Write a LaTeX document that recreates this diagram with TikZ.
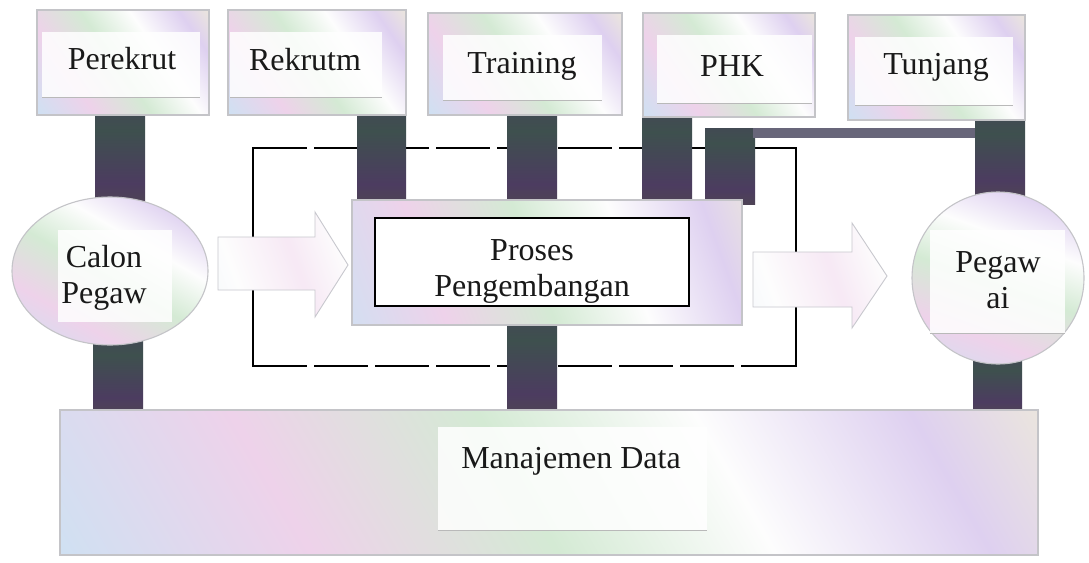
\documentclass[tikz,border=0pt]{standalone}
\usepackage{fontspec}
\setmainfont{Liberation Serif}
\usetikzlibrary{shapes.geometric,calc}

% pastel sheen used on the boxes
\definecolor{iwhite}{RGB}{253,253,253}
\definecolor{isky}{RGB}{208,224,242}
\definecolor{ipink}{RGB}{238,210,234}
\definecolor{imint}{RGB}{212,234,212}
\definecolor{ilav}{RGB}{222,208,240}
\definecolor{icream}{RGB}{240,238,214}
\definecolor{boxedge}{RGB}{196,196,200}
\definecolor{arrowedge}{RGB}{200,200,206}
% dark connector bars
\definecolor{bolive}{RGB}{82,84,60}
\definecolor{bpurple}{RGB}{76,60,96}
\definecolor{bgreen}{RGB}{62,80,78}
\definecolor{bandgrey}{RGB}{104,102,122}

\pgfdeclarehorizontalshading{irid}{100bp}{color(0bp)=(iwhite); color(16bp)=(isky); color(32bp)=(ipink); color(48bp)=(imint); color(62bp)=(iwhite); color(76bp)=(ilav); color(88bp)=(icream); color(100bp)=(isky)}
\pgfdeclarehorizontalshading{iridsoft}{100bp}{color(0bp)=(isky!40); color(30bp)=(iwhite); color(55bp)=(ipink!50); color(75bp)=(iwhite); color(100bp)=(imint!50)}
\pgfdeclareverticalshading{barshade}{100bp}{color(0bp)=(bolive); color(35bp)=(bpurple); color(65bp)=(bgreen); color(100bp)=(bpurple)}

\pgfdeclarelayer{paper}
\pgfdeclarelayer{framelayer}
\pgfdeclarelayer{barlayer}
\pgfsetlayers{paper,framelayer,barlayer,main}

\begin{document}
\begin{tikzpicture}[x=1pt,y=-1pt,
  every node/.style={inner sep=0pt, outer sep=0pt},
  irid/.style={shade, shading=irid, draw=boxedge, line width=1.1pt},
  topbox/.style={irid, rectangle, shading angle=35},
  whitepanel/.style={fill=white, fill opacity=0.85},
  panelfoot/.style={draw=gray!55, line width=1pt},
  lbl/.style={font=\fontsize{32}{36}\selectfont, text=black!90, align=center},
  bar/.style={shade, shading=barshade},
  band/.style={fill=bandgrey},
  frameline/.style={line width=2.4pt, black, line cap=rect},
  gapline/.style={line width=2.4pt, black, dash pattern=on 54pt off 7pt},
  arrowshape/.style={shade, shading=iridsoft, shading angle=20, draw=arrowedge, line width=0.9pt},
]
\useasboundingbox (0,0) rectangle (1089,562);
\begin{pgfonlayer}{paper}
  \fill[white] (0,0) rectangle (1089,562);
\end{pgfonlayer}

% ---- top row of boxes
\node[topbox, minimum width=172pt, minimum height=105pt] (perekrut) at (123,62.5) {};
\node[topbox, minimum width=178pt, minimum height=105pt] (rekrutm) at (317,62.5) {};
\node[topbox, minimum width=194pt, minimum height=102pt] (training) at (525,64) {};
\node[topbox, minimum width=172pt, minimum height=104pt] (phk) at (729,65) {};
\node[topbox, minimum width=177pt, minimum height=105pt] (tunjang) at (936.5,67.5) {};

\fill[whitepanel] (42,32) rectangle (200,97);
\draw[panelfoot] (42,97) -- (200,97);
\fill[whitepanel] (230,32) rectangle (382,97);
\draw[panelfoot] (230,97) -- (382,97);
\fill[whitepanel] (443,35) rectangle (602,100);
\draw[panelfoot] (443,100) -- (602,100);
\fill[whitepanel] (657,35) rectangle (812,103);
\draw[panelfoot] (657,103) -- (812,103);
\fill[whitepanel] (855,37) rectangle (1013,105);
\draw[panelfoot] (855,105) -- (1013,105);

\node[lbl, anchor=base] (perekrut-t) at (122,69) {Perekrut};
\node[lbl, anchor=base] (rekrutm-t) at (305,70) {Rekrutm};
\node[lbl, anchor=base] (training-t) at (522,73) {Training};
\node[lbl, anchor=base] (phk-t) at (732,76) {PHK};
\node[lbl, anchor=base] (tunjang-t) at (936,74) {Tunjang};

% ---- candidate ellipse
\node[irid, ellipse, shading angle=60, minimum width=196pt, minimum height=148pt] (calon) at (110,271) {};
\fill[whitepanel] (58,230) rectangle (172,322);
\node[lbl] (calon-t) at (104,278) {Calon\\Pegaw};

% ---- development process box
\node[irid, rectangle, shading angle=20, minimum width=390pt, minimum height=125pt] (proses) at (547,262.5) {};
\node[draw=black, line width=1.5pt, fill=white, minimum width=314pt, minimum height=88pt] (proses-in) at (532,262) {};
\node[lbl] (proses-t) at (532,271) {Proses\\Pengembangan};

% ---- employee circle
\node[irid, circle, shading angle=70, minimum size=172pt] (pegawai) at (998,278) {};
\fill[whitepanel] (930,230) rectangle (1065,333);
\draw[panelfoot] (930,333) -- (1065,333);
\node[lbl] (pegawai-t) at (998,280) {Pegaw\\ai};

% ---- data management base
\node[irid, rectangle, shading angle=30, minimum width=978pt, minimum height=145pt] (manajemen) at (549,482.5) {};
\fill[whitepanel] (438,427) rectangle (707,530);
\draw[panelfoot] (438,530) -- (707,530);
\node[lbl, anchor=base] (manajemen-t) at (571,468) {Manajemen Data};

% ---- flow arrows
\path[arrowshape] (218,237) -- (315,237) -- (315,212) -- (348,265) -- (315,317) -- (315,290) -- (218,290) -- cycle;
\path[arrowshape] (753,252) -- (852,252) -- (852,223) -- (887,276) -- (852,328) -- (852,307) -- (753,307) -- cycle;

% ---- dashed frame around the process
\begin{pgfonlayer}{framelayer}
  \draw[frameline] (253,148) -- (253,366);
  \draw[frameline] (796,148) -- (796,366);
  \draw[gapline] (253,148) -- (796,148);
  \draw[gapline] (253,366) -- (796,366);
\end{pgfonlayer}

% ---- connector bars
\begin{pgfonlayer}{barlayer}
  \path[bar] ($(perekrut.south)+(-28,-2)$) rectangle ($(calon.north)+(35,4)$);
  \path[bar] ($(calon.south)+(-17,-4)$) rectangle ($(calon.south|-manajemen.north)+(33,2)$);
  \path[bar] ($(rekrutm.south)+(40,-2)$) rectangle ($(rekrutm.south|-proses.north)+(89,2)$);
  \path[bar] ($(training.south)+(-18,-2)$) rectangle ($(training.south|-proses.north)+(32,2)$);
  \path[bar] ($(phk.south)+(-87,-2)$) rectangle ($(phk.south|-proses.north)+(-37,2)$);
  \path[bar] ($(tunjang.south-|proses.north)+(158,8)$) rectangle ($(proses.north)+(208,4)$);
  \path[band] ($(tunjang.south-|proses.north)+(206,8)$) rectangle ($(tunjang.south)+(40,18)$);
  \path[bar] ($(tunjang.south)+(38.5,-2)$) rectangle ($(pegawai.north)+(27,4)$);
  \path[bar] ($(proses.south)+(-40,-3)$) rectangle ($(proses.south|-manajemen.north)+(10,2)$);
  \path[bar] ($(pegawai.south)+(-25,-4)$) rectangle ($(pegawai.south|-manajemen.north)+(24,2)$);
\end{pgfonlayer}
\end{tikzpicture}
\end{document}
